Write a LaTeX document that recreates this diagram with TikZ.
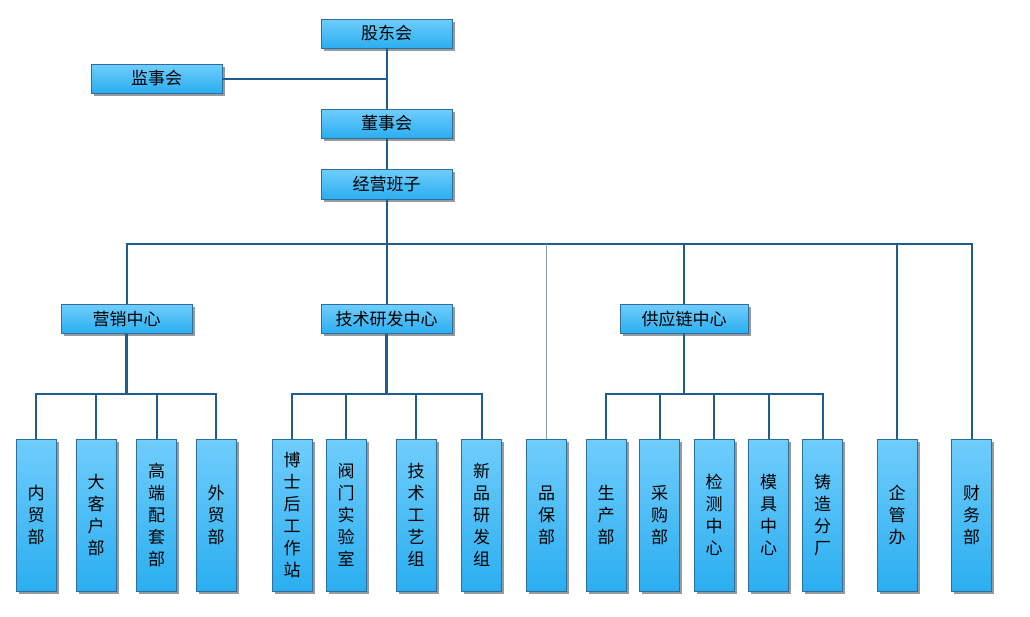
\documentclass[tikz,border=0pt]{standalone}
\usepackage{fontspec}
\newfontfamily\cjk{Noto Sans CJK SC}
\usetikzlibrary{shadows}
\definecolor{linec}{RGB}{30,93,140}
\definecolor{boxb}{RGB}{46,110,158}
\definecolor{boxtop}{RGB}{112,205,252}
\definecolor{boxbot}{RGB}{42,174,240}
\definecolor{shad}{RGB}{150,155,160}
\definecolor{grayline}{RGB}{135,155,172}
\tikzset{
  orgbox/.style={draw=boxb, line width=0.8pt, top color=boxtop, bottom color=boxbot,
    drop shadow={shadow xshift=2.5pt, shadow yshift=-2.5pt, fill=shad, opacity=1},
    inner sep=0pt, anchor=center},
  hbox/.style={orgbox, minimum width=131pt, minimum height=29pt,
    font=\cjk\fontsize{17}{19}\selectfont},
  vbox/.style={orgbox, minimum width=40pt, minimum height=152pt, align=center,
    font=\cjk\fontsize{17}{22}\selectfont},
  conn/.style={draw=linec, line width=2pt},
  trunk/.style={draw=linec, line width=2.6pt},
}
\begin{document}
\begin{tikzpicture}[x=1pt,y=-1pt]
\useasboundingbox (0,0) rectangle (1030,616);
% top
\node[hbox] (gd) at (386.5,33.5) {股东会};
\node[hbox] (js) at (156.5,78.5) {监事会};
\node[hbox] (dsh) at (386.5,123.5) {董事会};
\node[hbox, minimum height=30pt] (jy) at (386.5,184) {经营班子};
% centers
\node[hbox] (yx) at (126.5,319) {营销中心};
\node[hbox] (jsyf) at (386.5,319) {技术研发中心};
\node[hbox, minimum width=128pt] (gyl) at (684,319) {供应链中心};
% bottom
\node[vbox] (nm) at (36,515) {内\\贸\\部};
\node[vbox] (dkh) at (96,515) {大\\客\\户\\部};
\node[vbox] (gdpt) at (156.5,515) {高\\端\\配\\套\\部};
\node[vbox] (wm) at (216,515) {外\\贸\\部};
\node[vbox] (bsh) at (292,515) {博\\士\\后\\工\\作\\站};
\node[vbox] (fm) at (346,515) {阀\\门\\实\\验\\室};
\node[vbox] (jsgy) at (416,515) {技\\术\\工\\艺\\组};
\node[vbox] (xp) at (481.5,515) {新\\品\\研\\发\\组};
\node[vbox] (pb) at (546.5,515) {品\\保\\部};
\node[vbox] (sc) at (606,515) {生\\产\\部};
\node[vbox] (cg) at (659.5,515) {采\\购\\部};
\node[vbox] (jc) at (714,515) {检\\测\\中\\心};
\node[vbox] (mj) at (768.5,515) {模\\具\\中\\心};
\node[vbox] (zz) at (822.5,515) {铸\\造\\分\\厂};
\node[vbox] (qg) at (897,515) {企\\管\\办};
\node[vbox] (cw) at (971.5,515) {财\\务\\部};
% coordinates
\coordinate (bus) at (386.5,244);
\coordinate (yb) at (126.5,394);
\coordinate (jb) at (386.5,394);
\coordinate (gb) at (684,394);
% top trunk
\draw[conn] (gd.south) -- (dsh.north);
\draw[conn] (js.east) -- (js.east -| gd.south);
\draw[conn] (dsh.south) -- (jy.north);
\draw[conn] (jy.south) -- (bus);
% main bus
\draw[conn] (yx.north) |- (bus);
\draw[conn] (jsyf.north) -- (bus);
\draw[trunk] (bus) -- (gyl.north |- bus);
\draw[conn] (gyl.north) -- (gyl.north |- bus) -- (cw.north |- bus) -- (cw.north);
\draw[conn] (qg.north) -- (qg.north |- bus);
\draw[draw=grayline, line width=1.8pt] (pb.north) -- (pb.north |- bus);
% marketing
\draw[trunk] (yx.south) -- (yb);
\draw[conn] (nm.north) |- (yb) -| (wm.north);
\draw[conn] (dkh.north) -- (dkh.north |- yb);
\draw[conn] (gdpt.north) -- (gdpt.north |- yb);
% tech
\draw[trunk] (jsyf.south) -- (jb);
\draw[conn] (bsh.north) |- (jb) -| (xp.north);
\draw[conn] (fm.north) -- (fm.north |- jb);
\draw[conn] (jsgy.north) -- (jsgy.north |- jb);
% supply
\draw[trunk] (gyl.south) -- (gb);
\draw[conn] (sc.north) |- (gb) -| (zz.north);
\draw[conn] (cg.north) -- (cg.north |- gb);
\draw[conn] (jc.north) -- (jc.north |- gb);
\draw[conn] (mj.north) -- (mj.north |- gb);
\end{tikzpicture}
\end{document}
